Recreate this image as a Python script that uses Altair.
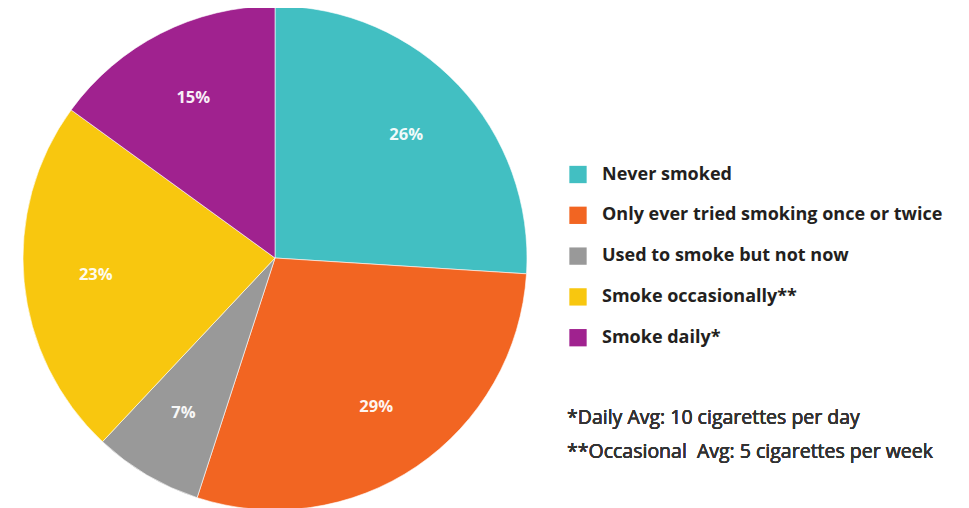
import altair as alt
import pandas as pd

categories = [
    "Never smoked",
    "Only ever tried smoking once or twice",
    "Used to smoke but not now",
    "Smoke occasionally**",
    "Smoke daily*",
]
percent = [26, 29, 7, 23, 15]
colors = ["#42bfc2", "#f26522", "#999999", "#f8c70f", "#a0228f"]
footnotes = [
    "*Daily Avg: 10 cigarettes per day",
    "**Occasional\u00a0 Avg: 5 cigarettes per week",
]

df = pd.DataFrame({"category": categories, "percent": percent, "order": list(range(len(categories)))})
df["label"] = df["percent"].astype(str) + "%"

CX, CY, R = 267, 250, 252

base = alt.Chart(df).encode(
    theta=alt.Theta("percent:Q", stack=True),
    order=alt.Order("order:Q"),
)

pie = base.mark_arc(outerRadius=R, stroke="#ffffff", strokeWidth=0.6).encode(
    x=alt.value(CX),
    y=alt.value(CY),
    color=alt.Color(
        "category:N",
        sort=categories,
        scale=alt.Scale(domain=categories, range=colors),
        legend=alt.Legend(
            title=None,
            orient="none",
            legendX=561,
            legendY=157.5,
            symbolType="square",
            symbolSize=300,
            symbolStrokeWidth=0,
            symbolOpacity=1,
            labelFont="Open Sans",
            labelFontWeight="bold",
            labelFontSize=18,
            labelColor="#231f20",
            labelOffset=15,
            rowPadding=22.8,
            labelLimit=400,
            padding=0,
        ),
    ),
)

labels = base.mark_text(
    radius=180,
    font="Open Sans",
    fontWeight="bold",
    fontSize=16.5,
    color="#ffffff",
    opacity=0.93,
).encode(
    x=alt.value(CX),
    y=alt.value(CY),
    text="label:N",
)

notes = alt.Chart(df).mark_text(
    text=footnotes,
    align="left",
    baseline="middle",
    lineHeight=34,
    font="Open Sans",
    fontWeight="normal",
    fontSize=19.5,
    color="#333333",
).encode(x=alt.value(559), y=alt.value(410))

chart = (
    alt.layer(pie, labels, notes)
    .properties(
        width=945,
        height=500,
        padding=0,
        background="transparent",
        autosize=alt.AutoSizeParams(type="none"),
    )
    .configure_view(strokeWidth=0, stroke=None, fill=None)
)

chart.save("out.html", embed_options={"renderer": "svg", "actions": False})
